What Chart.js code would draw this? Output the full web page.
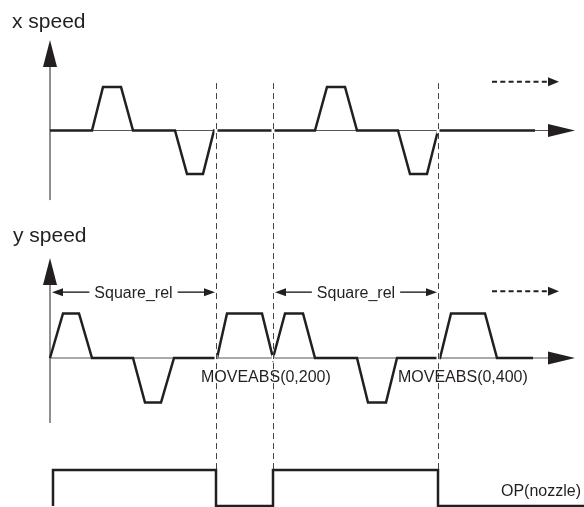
<!DOCTYPE html>
<html>
<head>
    <title>Square_rel timing diagram</title>
    <script src="https://cdn.jsdelivr.net/npm/chart.js@4/dist/chart.umd.min.js"></script>
    <style>
        body { margin: 0; background: #fff; }
        #wrap { position: relative; width: 584px; height: 507px; }
    </style>
</head>
<body>
    <div id="wrap"><canvas id="chart"></canvas></div>

    <script>
        // time from the axis origin (ms), speed levels: 1 = full forward, -1 = full reverse
        const xTime = [0, 42, 53, 71, 83, 125, 137, 153, 164, 265, 277, 295, 307, 348, 360, 377, 388, 485];
        const xSpeed = [0, 0, 1, 1, 0, 0, -1, -1, 0, 0, 1, 1, 0, 0, -1, -1, 0, 0];
        const yTime = [0, 13, 29, 42, 83, 95, 111, 124, 165, 167, 177, 212, 223, 235, 253, 265, 307, 318, 336, 347, 387, 390, 401, 435, 447, 483];
        const ySpeed = [0, 1, 1, 0, 0, -1, -1, 0, 0, 0, 1, 1, 0, 1, 1, 0, 0, -1, -1, 0, 0, 0, 1, 1, 0, 0];
        const nozzleTime = [3, 3, 166, 166, 223, 223, 388, 388, 534];
        const nozzleState = [0, 1, 1, 0, 0, 1, 1, 0, 0];
        const events = [166, 223, 388];
        const spanStart = [2, 225];
        const spanEnd = [165, 387];
        const spanLabel = 'Square_rel';
        const moveLabels = ['MOVEABS(0,200)', 'MOVEABS(0,400)'];
        const moveLabelTime = [151, 348];

        const W = 584, H = 507;
        const ink = '#231f20';
        const font = '"Liberation Sans", Arial, sans-serif';

        // each trace gets its own hidden y axis: baseline pixel and pixels per level
        function band(base, unit) {
            return { display: false, min: (base - H) / unit, max: base / unit };
        }

        function pts(t, v) {
            return t.map((x, i) => ({ x: x, y: v[i] }));
        }

        function line(ctx, x1, y1, x2, y2) {
            ctx.beginPath();
            ctx.moveTo(x1, y1);
            ctx.lineTo(x2, y2);
            ctx.stroke();
        }

        function headUp(ctx, x, tip, w, h) {
            ctx.beginPath();
            ctx.moveTo(x, tip);
            ctx.lineTo(x - w / 2, tip + h);
            ctx.lineTo(x + w / 2, tip + h);
            ctx.closePath();
            ctx.fill();
        }

        function headSide(ctx, tip, y, len, w, dir) {
            ctx.beginPath();
            ctx.moveTo(tip, y);
            ctx.lineTo(tip - dir * len, y - w / 2);
            ctx.lineTo(tip - dir * len, y + w / 2);
            ctx.closePath();
            ctx.fill();
        }

        const diagram = {
            id: 'diagram',
            beforeDatasetsDraw(chart) {
                const { ctx, scales } = chart;
                const X = scales.x, ax = scales.yx, ay = scales.yy;
                const x0 = X.getPixelForValue(0);
                const tipX = X.getPixelForValue(525);
                ctx.save();
                ctx.strokeStyle = ink;
                ctx.lineWidth = 1;
                // vertical axes
                line(ctx, x0, ax.getPixelForValue(-1.6), x0, ax.getPixelForValue(2.08) + 20);
                line(ctx, x0, ay.getPixelForValue(-1.46), x0, ay.getPixelForValue(2.25) + 20);
                // time axes
                ctx.strokeStyle = '#555';
                line(ctx, x0, ax.getPixelForValue(0), tipX - 20, ax.getPixelForValue(0));
                line(ctx, x0, ay.getPixelForValue(0), tipX - 20, ay.getPixelForValue(0));
                ctx.restore();
            },
            afterDatasetsDraw(chart) {
                const { ctx, scales } = chart;
                const X = scales.x, ax = scales.yx, ay = scales.yy, an = scales.yn;
                const x0 = X.getPixelForValue(0);
                const tipX = X.getPixelForValue(525);
                ctx.save();
                ctx.fillStyle = ink;
                headUp(ctx, x0, ax.getPixelForValue(2.08), 14, 27);
                headUp(ctx, x0, ay.getPixelForValue(2.25), 14, 27);
                headSide(ctx, tipX, ax.getPixelForValue(0), 27, 13, 1);
                headSide(ctx, tipX, ay.getPixelForValue(0), 27, 13, 1);

                // event markers: small break in the traces, then the dashed line
                const top = ax.getPixelForValue(1.09);
                const bottom = an.getPixelForValue(1);
                events.forEach(t => {
                    const px = X.getPixelForValue(t);
                    ctx.fillStyle = '#fff';
                    ctx.fillRect(px - 1.5, ax.getPixelForValue(0) - 3, 3, 6);
                    ctx.fillRect(px - 1.5, ay.getPixelForValue(0) - 3, 3, 6);
                    ctx.strokeStyle = '#444';
                    ctx.lineWidth = 1;
                    ctx.setLineDash([6, 4]);
                    line(ctx, px + 0.5, top, px + 0.5, bottom);
                    ctx.setLineDash([]);
                });

                // Square_rel spans
                ctx.font = '16px ' + font;
                ctx.textBaseline = 'middle';
                ctx.textAlign = 'center';
                const sy = ay.getPixelForValue(1.48);
                spanStart.forEach((s, i) => {
                    const a = X.getPixelForValue(s), b = X.getPixelForValue(spanEnd[i]);
                    const mid = (a + b) / 2;
                    const half = ctx.measureText(spanLabel).width / 2 + 5;
                    ctx.strokeStyle = ink;
                    ctx.fillStyle = ink;
                    ctx.lineWidth = 1.4;
                    line(ctx, a + 8, sy, mid - half, sy);
                    line(ctx, mid + half, sy, b - 8, sy);
                    headSide(ctx, a, sy, 11, 8, -1);
                    headSide(ctx, b, sy, 11, 8, 1);
                    ctx.fillText(spanLabel, mid, sy + 1);
                });

                // "continues" dashed arrows
                [ax.getPixelForValue(1.12), ay.getPixelForValue(1.5)].forEach(y => {
                    const a = X.getPixelForValue(442), b = X.getPixelForValue(509);
                    ctx.strokeStyle = ink;
                    ctx.lineWidth = 2;
                    ctx.setLineDash([5, 3.3]);
                    line(ctx, a, y, b - 9, y);
                    ctx.setLineDash([]);
                    headSide(ctx, b, y, 11, 9, 1);
                });

                // labels
                ctx.fillStyle = ink;
                ctx.textAlign = 'left';
                moveLabels.forEach((txt, i) => {
                    ctx.fillText(txt, X.getPixelForValue(moveLabelTime[i]), ay.getPixelForValue(-0.45));
                });
                ctx.textAlign = 'right';
                ctx.fillText('OP(nozzle)', X.getPixelForValue(531), an.getPixelForValue(0.39));
                ctx.textAlign = 'left';
                ctx.textBaseline = 'alphabetic';
                ctx.font = '21px ' + font;
                ctx.fillText('x speed', 12, 28);
                ctx.fillText('y speed', 13, 242);
                ctx.restore();
            }
        };

        const trace = {
            borderColor: ink,
            borderWidth: 2.5,
            pointRadius: 0,
            tension: 0,
            fill: false,
            borderJoinStyle: 'miter'
        };

        new Chart(document.getElementById('chart'), {
            type: 'line',
            data: {
                datasets: [
                    Object.assign({ label: 'x speed', data: pts(xTime, xSpeed), yAxisID: 'yx' }, trace),
                    Object.assign({ label: 'y speed', data: pts(yTime, ySpeed), yAxisID: 'yy' }, trace),
                    Object.assign({ label: 'OP(nozzle)', data: pts(nozzleTime, nozzleState), yAxisID: 'yn' }, trace)
                ]
            },
            options: {
                responsive: true,
                maintainAspectRatio: false,
                animation: false,
                layout: { padding: 0 },
                plugins: { legend: { display: false }, tooltip: { enabled: false } },
                scales: {
                    x: { type: 'linear', display: false, min: -50, max: 534 },
                    yx: band(130.5, 43.5),
                    yy: band(358, 44.5),
                    yn: band(506, 36)
                }
            },
            plugins: [diagram]
        });
    </script>
</body>
</html>
